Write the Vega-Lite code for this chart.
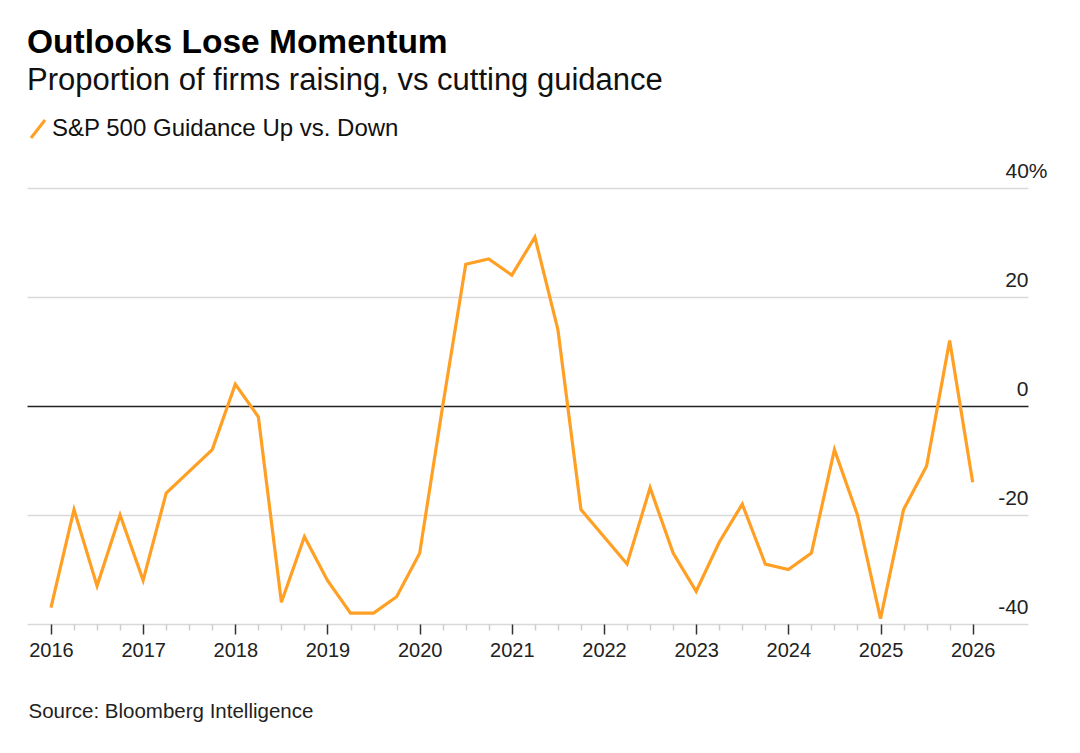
{
  "$schema": "https://vega.github.io/schema/vega-lite/v6.json",
  "autosize": {"type": "none"},
  "padding": {"left": 27, "top": 188, "right": 52, "bottom": 129},
  "width": 1001,
  "height": 436,
  "background": "white",
  "title": {
    "text": "Outlooks Lose Momentum",
    "subtitle": "Proportion of firms raising, vs cutting guidance",
    "anchor": "start",
    "frame": "group",
    "font": "Liberation Sans",
    "subtitleFont": "Liberation Sans",
    "fontSize": 33.5,
    "fontWeight": "bold",
    "subtitleFontSize": 31,
    "color": "#000000",
    "subtitleColor": "#111111",
    "subtitlePadding": 6,
    "offset": 20
  },
  "data": {
    "values": [
      {"t": 2016.00, "v": -37}, {"t": 2016.25, "v": -19}, {"t": 2016.50, "v": -33}, {"t": 2016.75, "v": -20},
      {"t": 2017.00, "v": -32}, {"t": 2017.25, "v": -16}, {"t": 2017.50, "v": -12}, {"t": 2017.75, "v": -8},
      {"t": 2018.00, "v": 4}, {"t": 2018.25, "v": -2}, {"t": 2018.50, "v": -36}, {"t": 2018.75, "v": -24},
      {"t": 2019.00, "v": -32}, {"t": 2019.25, "v": -38}, {"t": 2019.50, "v": -38}, {"t": 2019.75, "v": -35},
      {"t": 2020.00, "v": -27}, {"t": 2020.25, "v": 0}, {"t": 2020.50, "v": 26}, {"t": 2020.75, "v": 27},
      {"t": 2021.00, "v": 24}, {"t": 2021.25, "v": 31}, {"t": 2021.50, "v": 14}, {"t": 2021.75, "v": -19},
      {"t": 2022.00, "v": -24}, {"t": 2022.25, "v": -29}, {"t": 2022.50, "v": -15}, {"t": 2022.75, "v": -27},
      {"t": 2023.00, "v": -34}, {"t": 2023.25, "v": -25}, {"t": 2023.50, "v": -18}, {"t": 2023.75, "v": -29},
      {"t": 2024.00, "v": -30}, {"t": 2024.25, "v": -27}, {"t": 2024.50, "v": -8}, {"t": 2024.75, "v": -20},
      {"t": 2025.00, "v": -39}, {"t": 2025.25, "v": -19}, {"t": 2025.50, "v": -11}, {"t": 2025.75, "v": 12},
      {"t": 2026.00, "v": -14}
    ]
  },
  "mark": {"type": "line", "strokeWidth": 3.2, "strokeJoin": "miter", "strokeCap": "butt"},
  "encoding": {
    "x": {
      "field": "t",
      "type": "quantitative",
      "scale": {"domain": [2015.74, 2026.6], "nice": false, "zero": false},
      "axis": {
        "values": [2016, 2016.25, 2016.5, 2016.75, 2017, 2017.25, 2017.5, 2017.75, 2018, 2018.25, 2018.5, 2018.75, 2019, 2019.25, 2019.5, 2019.75, 2020, 2020.25, 2020.5, 2020.75, 2021, 2021.25, 2021.5, 2021.75, 2022, 2022.25, 2022.5, 2022.75, 2023, 2023.25, 2023.5, 2023.75, 2024, 2024.25, 2024.5, 2024.75, 2025, 2025.25, 2025.5, 2025.75, 2026],
        "labelExpr": "datum.value % 1 === 0 ? '' + datum.value : ''",
        "labelOverlap": false,
        "labelFlush": false,
        "domain": false,
        "grid": false,
        "tickColor": {"condition": {"test": "datum.value % 1 === 0", "value": "#333333"}, "value": "#cccccc"},
        "tickSize": {"condition": {"test": "datum.value % 1 === 0", "value": 10}, "value": 6},
        "tickWidth": 1.5,
        "labelFont": "Liberation Sans",
        "labelFontSize": 20,
        "labelColor": "#222222",
        "labelPadding": 6,
        "title": "Source: Bloomberg Intelligence",
        "titleFont": "Liberation Sans",
        "titleFontSize": 20.5,
        "titleFontWeight": "normal",
        "titleColor": "#222222",
        "titleAnchor": "start",
        "titleAlign": "left",
        "titleBaseline": "alphabetic",
        "titleX": 1,
        "titleY": 93
      }
    },
    "y": {
      "field": "v",
      "type": "quantitative",
      "scale": {"domain": [-40, 40], "nice": false},
      "axis": {
        "orient": "right",
        "values": [-40, -20, 0, 20, 40],
        "domain": false,
        "ticks": false,
        "tickSize": 0,
        "grid": true,
        "gridColor": {"condition": {"test": "datum.value === 0", "value": "#222222"}, "value": "#d9d9d9"},
        "gridWidth": {"condition": {"test": "datum.value === 0", "value": 1.3}, "value": 1.5},
        "labelAlign": "right",
        "labelBaseline": "alphabetic",
        "labelOffset": -11,
        "labelPadding": {"condition": {"test": "datum.value === 40", "value": 19}, "value": 0},
        "labelExpr": "datum.value === 40 ? '40%' : '' + datum.value",
        "labelFont": "Liberation Sans",
        "labelFontSize": 21,
        "labelColor": "#222222",
        "title": null
      }
    },
    "color": {
      "datum": "S&P 500 Guidance Up vs. Down",
      "type": "nominal",
      "scale": {"range": ["#ffa024"]},
      "legend": {
        "orient": "none",
        "legendX": -1,
        "legendY": -71,
        "title": null,
        "symbolType": "M-0.7,0.9L0.7,-0.9",
        "symbolSize": 400,
        "symbolStrokeWidth": 3,
        "labelOffset": 2,
        "labelLimit": 0,
        "labelFont": "Liberation Sans",
        "labelFontSize": 24,
        "labelColor": "#111111"
      }
    }
  },
  "config": {"view": {"stroke": null}, "font": "Liberation Sans"}
}
